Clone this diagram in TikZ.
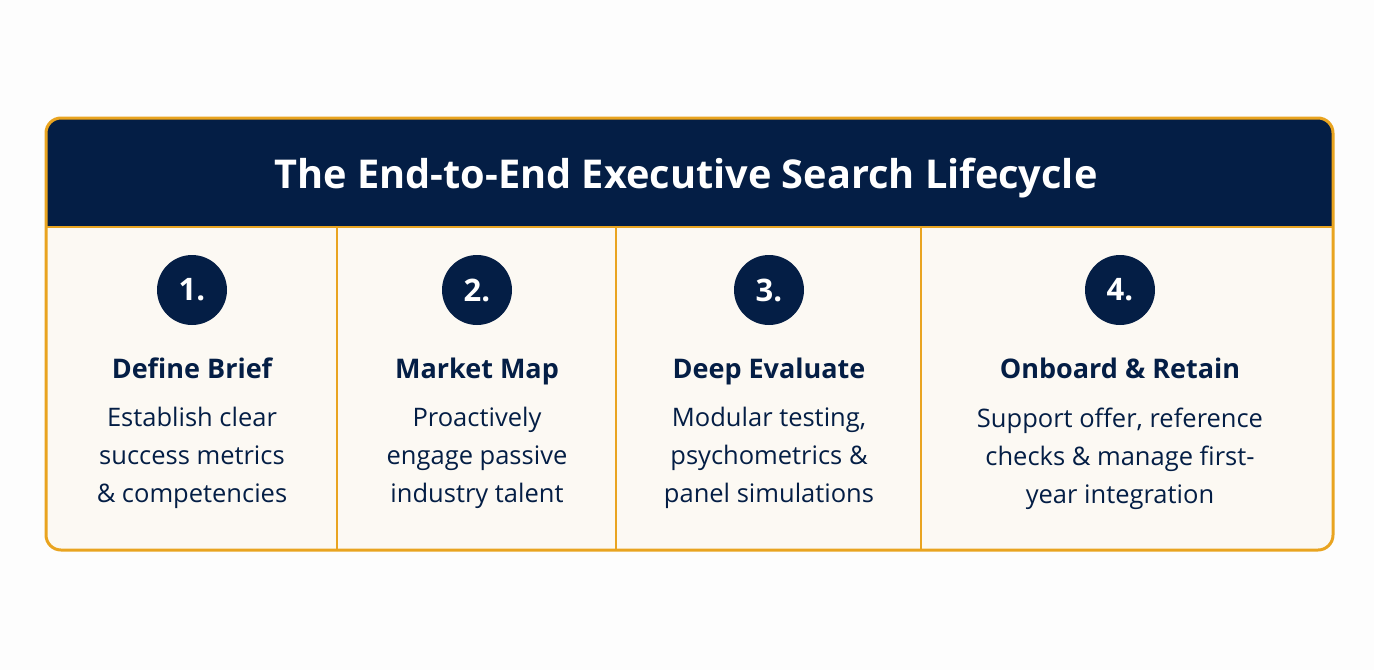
\documentclass[tikz,border=0pt]{standalone}
\usepackage{fontspec}
\setmainfont{Open Sans}
\definecolor{navy}{HTML}{041E45}
\definecolor{gold}{HTML}{E9A420}
\definecolor{cream}{HTML}{FCF9F3}
\definecolor{bg}{HTML}{FDFDFD}
\begin{document}
\begin{tikzpicture}[x=1pt,y=-1pt,
  num/.style={circle,fill=navy,minimum size=70pt,inner sep=0pt,text=white,font=\fontsize{31}{31}\selectfont\bfseries},
  ttl/.style={text=navy,anchor=base,font=\fontsize{27}{30}\selectfont\bfseries},
  body/.style={text=navy,align=center,font=\fontsize{25.5}{38}\selectfont,anchor=north}]
\fill[bg] (0,0) rectangle (1374,670);
\useasboundingbox (0,0) rectangle (1374,670);
% outer panel
\fill[cream,rounded corners=15pt] (46,118) rectangle (1333,550);
\fill[navy,rounded corners=15pt] (46,118) rectangle (1333,160);
\fill[navy] (46,150) rectangle (1333,227);
\draw[gold,line width=1.8pt] (46,227) -- (1333,227);
\draw[gold,line width=1.8pt] (337,227) -- (337,550);
\draw[gold,line width=1.8pt] (616,227) -- (616,550);
\draw[gold,line width=1.8pt] (921,227) -- (921,550);
\draw[gold,line width=3pt,rounded corners=15pt] (46,118) rectangle (1333,550);
\node[text=white,anchor=base,font=\fontsize{39.7}{40}\selectfont\bfseries] (title) at (686,188) {The End-to-End Executive Search Lifecycle};
% columns
\node[num] (n1) at (192,290) {1.};
\node[num] (n2) at (477,290) {2.};
\node[num] (n3) at (769,290) {3.};
\node[num] (n4) at (1120,290) {4.};
\node[ttl] (t1) at (192,378) {Define Brief};
\node[ttl] (t2) at (477,378) {Market Map};
\node[ttl] (t3) at (769,378) {Deep Evaluate};
\node[ttl] (t4) at (1120,378) {Onboard \& Retain};
\node[body] (b1) at (192,404) {Establish clear\\success metrics\\\& competencies};
\node[body] (b2) at (477,404) {Proactively\\engage passive\\industry talent};
\node[body] (b3) at (769,404) {Modular testing,\\psychometrics \&\\panel simulations};
\node[body] (b4) at (1120,404) {Support offer, reference\\checks \& manage first-\\year integration};
\end{tikzpicture}
\end{document}
